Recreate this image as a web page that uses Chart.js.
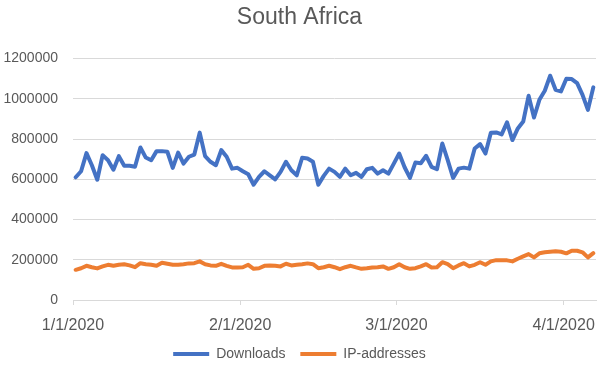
<!DOCTYPE html>
<html>
<head>
<meta charset="utf-8">
<script src="https://cdn.jsdelivr.net/npm/chart.js@4"></script>
<style>
  html, body { margin: 0; padding: 0; background: #ffffff; }
  #wrap { width: 607px; height: 375px; position: relative; }
</style>
</head>
<body>
<div id="wrap"><canvas id="c"></canvas></div>
<script>
// ---- data ----
const startDate = '2020-01-01';           // first day of the daily series
const seriesNames = ['Downloads', 'IP-addresses'];
const downloads = [
  610000, 640000, 730000, 670000, 598000, 720000, 695000, 648000, 715000, 667000,
  667000, 662000, 758000, 708000, 695000, 740000, 740000, 737000, 657000, 733000,
  678000, 712000, 723000, 832000, 715000, 687000, 670000, 745000, 712000, 653000,
  657000, 640000, 625000, 573000, 612000, 640000, 620000, 600000, 637000, 687000,
  645000, 620000, 707000, 703000, 687000, 573000, 617000, 653000, 637000, 612000,
  653000, 620000, 632000, 612000, 650000, 657000, 628000, 645000, 628000, 678000,
  728000, 660000, 607000, 683000, 680000, 717000, 662000, 650000, 778000, 695000,
  607000, 653000, 658000, 653000, 753000, 775000, 728000, 832000, 833000, 823000,
  883000, 795000, 853000, 887000, 1015000, 907000, 995000, 1040000, 1115000, 1045000,
  1037000, 1100000, 1098000, 1078000, 1020000, 945000, 1057000
];
const ipAddresses = [
  150000, 158000, 170000, 163000, 157000, 167000, 175000, 170000, 175000, 178000,
  172000, 163000, 183000, 178000, 175000, 170000, 185000, 180000, 175000, 175000,
  178000, 182000, 183000, 192000, 178000, 172000, 170000, 180000, 170000, 162000,
  162000, 163000, 175000, 155000, 158000, 170000, 172000, 170000, 167000, 180000,
  172000, 175000, 178000, 182000, 178000, 158000, 163000, 170000, 163000, 153000,
  163000, 170000, 162000, 155000, 158000, 162000, 163000, 167000, 155000, 163000,
  178000, 163000, 155000, 158000, 167000, 178000, 162000, 163000, 188000, 178000,
  158000, 172000, 183000, 167000, 175000, 188000, 175000, 192000, 198000, 198000,
  197000, 192000, 205000, 217000, 228000, 212000, 232000, 237000, 240000, 242000,
  240000, 232000, 245000, 245000, 237000, 212000, 233000
];
const xTickDayIndex = [0, 31, 60, 91];
const xTickLabels = ['1/1/2020', '2/1/2020', '3/1/2020', '4/1/2020'];
const yMax = 1200000;
const yStep = 200000;

// categories (dates) for each daily value
const dates = downloads.map((_, i) => {
  const d = new Date(startDate + 'T00:00:00Z');
  d.setUTCDate(d.getUTCDate() + i);
  return (d.getUTCMonth() + 1) + '/' + d.getUTCDate() + '/' + d.getUTCFullYear();
});

const toPoints = arr => arr.map((v, i) => ({ x: i, y: v }));
const textColor = '#595959';
const gridColor = '#D9D9D9';
const fontFamily = '"Liberation Sans", Arial, sans-serif';

new Chart(document.getElementById('c'), {
  type: 'line',
  data: {
    datasets: [
      {
        label: seriesNames[0],
        data: toPoints(downloads),
        borderColor: '#4472C4',
        backgroundColor: '#4472C4',
        borderWidth: 4,
        pointRadius: 0,
        tension: 0,
        borderJoinStyle: 'round',
        borderCapStyle: 'round'
      },
      {
        label: seriesNames[1],
        data: toPoints(ipAddresses),
        borderColor: '#ED7D31',
        backgroundColor: '#ED7D31',
        borderWidth: 4,
        pointRadius: 0,
        tension: 0,
        borderJoinStyle: 'round',
        borderCapStyle: 'round'
      }
    ]
  },
  options: {
    responsive: true,
    maintainAspectRatio: false,
    animation: false,
    layout: { padding: { top: 4, left: 3, right: 11, bottom: 4 } },
    plugins: {
      title: {
        display: true,
        text: 'South Africa',
        color: textColor,
        font: { family: fontFamily, size: 23, weight: 'normal' },
        padding: { top: 0, bottom: 27 }
      },
      legend: {
        position: 'bottom',
        labels: {
          color: textColor,
          font: { family: fontFamily, size: 14 },
          usePointStyle: true,
          pointStyle: 'line',
          pointStyleWidth: 36,
          padding: 11,
          generateLabels: chart => {
            const items = Chart.defaults.plugins.legend.labels.generateLabels(chart);
            items.forEach((it, i) => { if (i < items.length - 1) it.text = it.text + '\u00A0'; });
            return items;
          }
        }
      },
      tooltip: {
        callbacks: {
          title: items => dates[items[0].parsed.x]
        }
      }
    },
    scales: {
      x: {
        type: 'linear',
        min: -0.5,
        max: downloads.length - 0.5,
        afterBuildTicks: scale => {
          scale.ticks = xTickDayIndex.map(d => ({ value: d - 0.5 }));
        },
        afterFit: scale => { scale.height = 36; },
        ticks: {
          autoSkip: false,
          maxRotation: 0,
          color: textColor,
          font: { family: fontFamily, size: 16 },
          padding: 11,
          callback: (value) => {
            const k = xTickDayIndex.indexOf(Math.round(value + 0.5));
            return k >= 0 ? xTickLabels[k] : '';
          }
        },
        grid: {
          drawOnChartArea: false,
          drawTicks: true,
          tickLength: 5,
          color: gridColor
        },
        border: { display: true, color: gridColor, width: 1 }
      },
      y: {
        min: 0,
        max: yMax,
        afterFit: scale => { scale.width = 70; },
        ticks: {
          stepSize: yStep,
          color: textColor,
          font: { family: fontFamily, size: 14 },
          padding: 15,
          callback: v => String(v)
        },
        grid: { color: gridColor, drawTicks: false },
        border: { display: false }
      }
    }
  }
});
</script>
</body>
</html>
